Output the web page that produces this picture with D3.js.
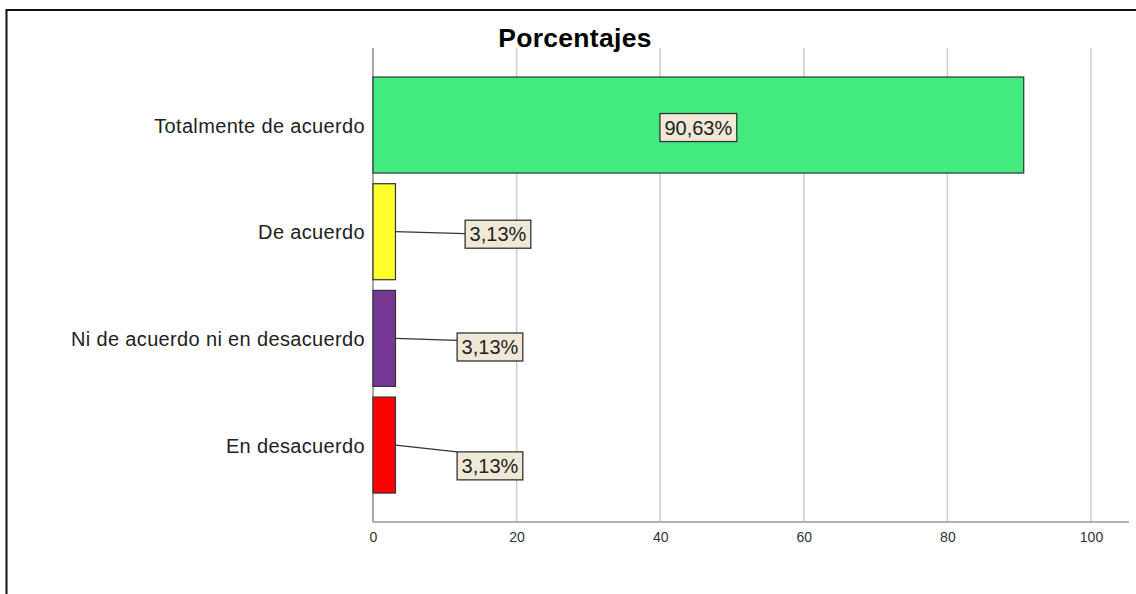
<!DOCTYPE html>
<html>
<head>
<meta charset="utf-8">
<script src="https://cdn.jsdelivr.net/npm/d3@7"></script>
<style>
  html, body { margin: 0; padding: 0; background: #fff; }
  svg { display: block; }
</style>
</head>
<body>
<svg id="chart" width="1136" height="594"></svg>
<script>
// ---- data ----
const categories = ["Totalmente de acuerdo", "De acuerdo", "Ni de acuerdo ni en desacuerdo", "En desacuerdo"];
const values = [90.63, 3.13, 3.13, 3.13];
const valueLabels = ["90,63%", "3,13%", "3,13%", "3,13%"];
const barColors = ["#42EA7F", "#FFFF2E", "#773894", "#FF0000"];
const tickValues = [0, 20, 40, 60, 80, 100];
const titleText = "Porcentajes";

// ---- layout (label placement, not data) ----
const labelLayout = [
  { inside: true, dx: 0, dy: 2.5 },
  { inside: false, dx: 102.5, dy: 2.5 },
  { inside: false, dx: 94.5, dy: 8.6 },
  { inside: false, dx: 94.5, dy: 20.8 }
];

const svg = d3.select("#chart");

// outer frame
svg.append("rect")
  .attr("x", 6.5).attr("y", 10).attr("width", 1300).attr("height", 800)
  .attr("fill", "none").attr("stroke", "#111").attr("stroke-width", 2);

const x = d3.scaleLinear().domain([0, 100]).range([373, 1091]);
const y = d3.scaleBand().domain(categories).range([71.7, 498.4])
  .paddingInner(0.1).paddingOuter(0.05);

const gridTop = 48, axisY = 522;

// grid lines
svg.append("g").selectAll("line")
  .data(tickValues.filter(d => d > 0))
  .join("line")
  .attr("x1", d => x(d)).attr("x2", d => x(d))
  .attr("y1", gridTop).attr("y2", axisY)
  .attr("stroke", "#cccccc").attr("stroke-width", 1.5);

// bottom axis line
svg.append("line")
  .attr("x1", x(0)).attr("x2", 1129).attr("y1", axisY).attr("y2", axisY)
  .attr("stroke", "#999").attr("stroke-width", 1.5);
// left axis line
svg.append("line")
  .attr("x1", x(0)).attr("x2", x(0)).attr("y1", gridTop).attr("y2", axisY)
  .attr("stroke", "#8a8a8a").attr("stroke-width", 1.5);

// tick labels via axis
const xAxis = d3.axisBottom(x).tickValues(tickValues).tickSize(0).tickPadding(0).tickFormat(d3.format("d"));
const gx = svg.append("g").attr("transform", `translate(0,${axisY})`).call(xAxis);
gx.select(".domain").remove();
gx.selectAll("text")
  .attr("y", 20).attr("dy", 0)
  .attr("font-family", "Liberation Sans, Arial, sans-serif")
  .attr("font-size", 14).attr("fill", "#333");

// title
svg.append("text")
  .attr("x", 575).attr("y", 46.5)
  .attr("text-anchor", "middle")
  .attr("font-family", "Liberation Sans, Arial, sans-serif")
  .attr("font-weight", "bold").attr("font-size", 26.5).attr("fill", "#000")
  .attr("letter-spacing", 0.3)
  .text(titleText);

// category labels
svg.append("g").selectAll("text")
  .data(categories)
  .join("text")
  .attr("x", 365)
  .attr("y", d => y(d) + y.bandwidth() / 2 + 7.5)
  .attr("text-anchor", "end")
  .attr("font-family", "Liberation Sans, Arial, sans-serif")
  .attr("font-size", 20).attr("fill", "#222")
  .attr("letter-spacing", 0.35)
  .text(d => d);

// bars
svg.append("g").selectAll("rect")
  .data(values)
  .join("rect")
  .attr("x", x(0))
  .attr("y", (d, i) => y(categories[i]))
  .attr("width", d => x(d) - x(0))
  .attr("height", y.bandwidth())
  .attr("fill", (d, i) => barColors[i])
  .attr("stroke", "#333").attr("stroke-width", 1.2);

// value labels
const lab = svg.append("g");
values.forEach((v, i) => {
  const cy = y(categories[i]) + y.bandwidth() / 2;
  const L = labelLayout[i];
  const cx = L.inside ? (x(0) + x(v)) / 2 : x(v) + L.dx;
  const ly = cy + L.dy;
  const t = lab.append("text")
    .attr("x", cx).attr("y", ly + 7)
    .attr("text-anchor", "middle")
    .attr("font-family", "Liberation Sans, Arial, sans-serif")
    .attr("font-size", 20).attr("fill", "#222")
    .text(valueLabels[i]);
  const w = t.node().getComputedTextLength() + 9;
  const h = 28;
  const bx = cx - w / 2, by = ly - h / 2;
  if (!L.inside) {
    const ey = Math.max(by, Math.min(by + h, cy + 2));
    lab.insert("line", "text")
      .attr("x1", x(v)).attr("y1", cy)
      .attr("x2", bx).attr("y2", ey)
      .attr("stroke", "#333").attr("stroke-width", 1.2);
  }
  lab.insert("rect", "text")
    .attr("x", bx).attr("y", by).attr("width", w).attr("height", h)
    .attr("fill", "#EFE8D6").attr("stroke", "#333").attr("stroke-width", 1.3);
  t.raise();
});
</script>
</body>
</html>
